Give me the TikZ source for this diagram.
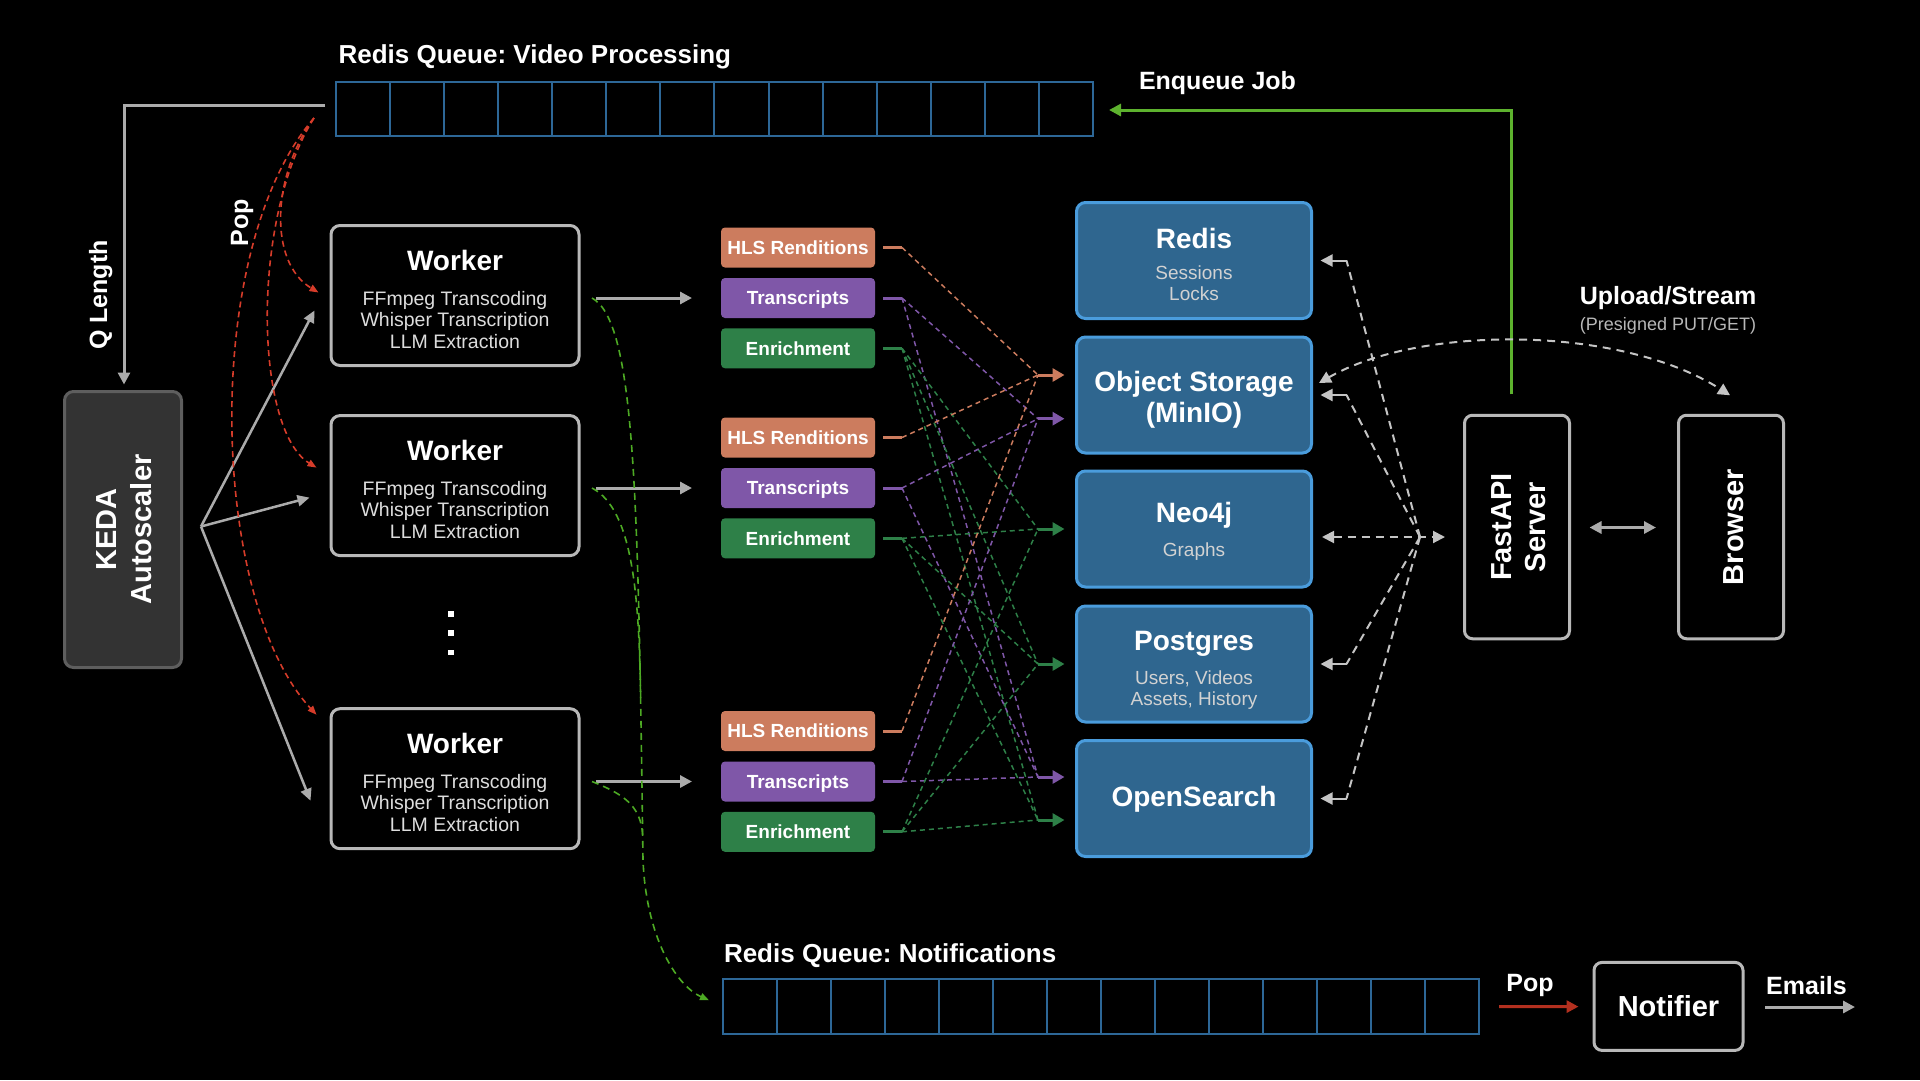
\documentclass[tikz,border=0pt]{standalone}
\usepackage{fontspec}
\setmainfont{Liberation Sans}
\usetikzlibrary{arrows.meta,calc}
\frenchspacing
\newcommand\myfs[2]{\fontsize{#1pt}{#2pt}\selectfont}
\definecolor{qblue}{HTML}{2D6797}
\definecolor{sfill}{HTML}{2F668F}
\definecolor{sborder}{HTML}{4A9CDC}
\definecolor{lgray}{HTML}{ABABAB}
\definecolor{dgray}{HTML}{C4C4C4}
\definecolor{bgray}{HTML}{B8B8B8}
\definecolor{subgray}{HTML}{D2D2D2}
\definecolor{wsub}{HTML}{DDDDDD}
\definecolor{hlsc}{HTML}{CC7C5E}
\definecolor{trc}{HTML}{7F57A8}
\definecolor{enc}{HTML}{2E8048}
\definecolor{popred}{HTML}{D63C2A}
\definecolor{darkred}{HTML}{B3301F}
\definecolor{enqgreen}{HTML}{5DB22E}
\definecolor{notgreen}{HTML}{4DAA24}
\definecolor{kedafill}{HTML}{333333}
\definecolor{kedaborder}{HTML}{5E5E5E}
\begin{document}
\begin{tikzpicture}[x=1pt,y=-1pt,
  every node/.style={inner sep=0pt,outer sep=0pt},
  qbox/.style={draw=qblue,line width=2pt,anchor=north west},
  qlabel/.style={anchor=base west,text=white,font=\myfs{26}{30}\bfseries},
  lbl/.style={anchor=base,text=white,font=\myfs{25}{30}\bfseries},
  gtip/.style={-{Triangle[length=12pt,width=12pt]}},
  glinearrow/.style={draw=lgray,line width=3pt,gtip},
  kedaarrow/.style={draw=lgray,line width=2.5pt,-{Triangle[length=12pt,width=11pt]}},
  popcurve/.style={draw=popred,line width=1.6pt,dash pattern=on 6pt off 4pt,-{Triangle[length=9pt,width=7pt]}},
  notline/.style={draw=notgreen,line width=1.6pt,dash pattern=on 7pt off 5pt},
  notcurve/.style={notline,-{Triangle[length=9pt,width=7pt]}},
  workerbox/.style={draw=bgray,fill=black,line width=3pt,rounded corners=9pt,minimum width=248pt,minimum height=140pt,anchor=north},
  wtitle/.style={anchor=base,text=white,font=\myfs{28}{32}\bfseries},
  wline/.style={anchor=base,text=wsub,font=\myfs{19.5}{22}},
  outbox/.style={rounded corners=4pt,minimum width=154pt,minimum height=40pt,text=white,font=\myfs{19}{22}\bfseries,text height=13.7pt,text depth=0pt},
  storebox/.style={draw=sborder,fill=sfill,line width=3pt,rounded corners=9pt,minimum width=235pt,minimum height=116pt},
  stitle/.style={anchor=base,text=white,font=\myfs{28}{32}\bfseries},
  ssub/.style={anchor=base,text=subgray,font=\myfs{19}{22}},
  cdash/.style={line width=1.5pt,dash pattern=on 5pt off 4pt},
  sarrow/.style={line width=3pt,-{Triangle[length=12pt,width=13pt]}},
  darkbox/.style={draw=bgray,fill=black,line width=3pt,rounded corners=8pt,minimum width=105pt,minimum height=223.5pt},
  gdash/.style={draw=dgray,line width=2pt,dash pattern=on 8pt off 6pt},
  rotlbl/.style={rotate=90,text=white,font=\myfs{25}{30}\bfseries,text height=18pt,text depth=0pt}
]
\fill[black] (0,0) rectangle (1920,1080);
\useasboundingbox (0,0) rectangle (1920,1080);

% ---------- queues ----------
\node[qbox,minimum width=757pt,minimum height=54pt] (vq) at (336,82) {};
\foreach \k in {1,...,13}{\draw[qblue,line width=2pt] ($(vq.north west)+(54.07*\k,0)$) -- ($(vq.south west)+(54.07*\k,0)$);}
\node[qlabel] (vqlbl) at (338.6,63) {Redis Queue: Video Processing};

\node[qbox,minimum width=756.5pt,minimum height=54.5pt] (nq) at (722.6,979) {};
\foreach \k in {1,...,13}{\draw[qblue,line width=2pt] ($(nq.north west)+(54.03*\k,0)$) -- ($(nq.south west)+(54.03*\k,0)$);}
\node[qlabel] (nqlbl) at (724,962) {Redis Queue: Notifications};

% ---------- KEDA ----------
\node[draw=kedaborder,fill=kedafill,line width=3pt,rounded corners=9pt,minimum width=117pt,minimum height=276pt] (keda) at (123,529.5) {};
\node[rotate=90,align=center,text=white,font=\myfs{29}{34.7}\bfseries] (kedat) at (124,529.5) {KEDA\\Autoscaler};

\coordinate (qlstart) at ($(vq.west)+(-11,-4)$);
\coordinate (qltip) at ($(keda.north)+(1,-7)$);
\draw[glinearrow] (qlstart) -| (qltip);
\node[rotlbl] (qllbl) at (98,295) {Q Length};
\node[rotlbl] (poplbl) at (239,223) {Pop};

% ---------- workers ----------
\foreach \i/\tp in {1/225.5,2/415.6,3/708.7}{
  \node[workerbox] (w\i) at (455,\tp) {};
  \node[wtitle] (w\i-t) at (455,\tp+45) {Worker};
  \node[wline] (w\i-a) at (455,\tp+79.5) {FFmpeg Transcoding};
  \node[wline] (w\i-b) at (455,\tp+101) {Whisper Transcription};
  \node[wline] (w\i-c) at (455,\tp+122.5) {LLM Extraction};
}
\foreach \yy in {611,630,649.5}{\fill[white] (448,\yy) rectangle ++(6,5.5);}

% KEDA fan-out
\coordinate (kfan) at ($(keda.east)+(19.5,-3)$);
\coordinate (w1in) at ($(w1.west)+(-16.5,15)$);
\coordinate (w2in) at ($(w2.west)+(-21.5,12)$);
\coordinate (w3in) at ($(w3.west)+(-20.5,22)$);
\draw[kedaarrow] (kfan) -- (w1in);
\draw[kedaarrow] (kfan) -- (w2in);
\draw[kedaarrow] (kfan) -- (w3in);

% Pop curves
\coordinate (popsrc) at ($(vq.west)+(-22,9)$);
\coordinate (w1pop) at ($(w1.west)+(-12.5,-3)$);
\coordinate (w2pop) at ($(w2.west)+(-14.5,-18)$);
\coordinate (w3pop) at ($(w3.west)+(-14.5,-64)$);
\draw[popcurve] (popsrc) .. controls (272,175) and (268,262) .. (w1pop);
\draw[popcurve] (popsrc) .. controls (250,220) and (255,430) .. (w2pop);
\draw[popcurve] (popsrc) .. controls (200,250) and (210,600) .. (w3pop);

% ---------- stores ----------
\node[storebox] (rds) at (1194,260.5) {};
\node[storebox] (os) at (1194,395) {};
\node[storebox] (neo) at (1194,529) {};
\node[storebox] (pg) at (1194,664) {};
\node[storebox] (ops) at (1194,798.5) {};
\node[stitle] (rds-t) at (1194,248) {Redis};
\node[ssub] (rds-a) at (1194,279.6) {Sessions};
\node[ssub] (rds-b) at (1194,300.3) {Locks};
\node[stitle] (os-t) at (1194,391) {Object Storage};
\node[stitle] (os-b) at (1194,422) {(MinIO)};
\node[stitle] (neo-t) at (1194,522.5) {Neo4j};
\node[ssub] (neo-a) at (1194,556.5) {Graphs};
\node[stitle] (pg-t) at (1194,650) {Postgres};
\node[ssub] (pg-a) at (1194,684) {Users, Videos};
\node[ssub] (pg-b) at (1194,705) {Assets, History};
\node[stitle] (ops-t) at (1194,806) {OpenSearch};

\coordinate (osH) at ($(os.west)+(-38.5,-20)$);
\coordinate (osT) at ($(os.west)+(-38.5,23.7)$);
\coordinate (neoE) at ($(neo.west)+(-38.5,0)$);
\coordinate (pgE) at ($(pg.west)+(-38.5,0)$);
\coordinate (opT) at ($(ops.west)+(-38.5,-21.5)$);
\coordinate (opE) at ($(ops.west)+(-38.5,21.5)$);

% notification queue entry
\coordinate (nqin) at ($(nq.west)+(-13.6,-6)$);
\coordinate (nqmid) at (643,860);
\coordinate (join2) at (640.7,700);
\coordinate (join3) at (642.6,835);

% ---------- outputs ----------
\foreach \i/\cy in {1/298,2/488,3/781.5}{
  \node[outbox,fill=hlsc] (h\i) at (798,\cy-50.5) {HLS Renditions};
  \node[outbox,fill=trc] (t\i) at (798,\cy) {Transcripts};
  \node[outbox,fill=enc] (e\i) at (798,\cy+50.3) {Enrichment};
  \draw[hlsc,line width=3pt] ($(h\i.east)+(8,0)$) -- ($(h\i.east)+(27,0)$) coordinate (h\i-s);
  \draw[trc,line width=3pt] ($(t\i.east)+(8,0)$) -- ($(t\i.east)+(27,0)$) coordinate (t\i-s);
  \draw[enc,line width=3pt] ($(e\i.east)+(8,0)$) -- ($(e\i.east)+(27,0)$) coordinate (e\i-s);
  \coordinate (w\i-o) at ($(w\i.east |- t\i.west)+(13,0)$);
  \draw[glinearrow] ($(w\i-o)+(4,0)$) -- ($(t\i.west)+(-29,0)$);
}
% notifications: worker 1 draws the trunk, the others join it
\draw[notcurve] (w1-o) .. controls ($(w1-o)+(44,24)$) and (638,500) .. (nqmid)
   .. controls (646,935) and (675,985) .. (nqin);
\draw[notline] (w2-o) .. controls ($(w2-o)+(42,22)$) and (639,600) .. (join2);
\draw[notline] (w3-o) .. controls ($(w3-o)+(30,12)$) and (641,805) .. (join3);

\foreach \i in {1,2,3}{
  \draw[cdash,hlsc] (h\i-s) -- (osH);
  \draw[cdash,trc] (t\i-s) -- (osT);
  \draw[cdash,trc] (t\i-s) -- (opT);
  \draw[cdash,enc] (e\i-s) -- (neoE);
  \draw[cdash,enc] (e\i-s) -- (pgE);
  \draw[cdash,enc] (e\i-s) -- (opE);
}
\draw[sarrow,hlsc] (osH) -- ($(osH -| os.west)+(-12,0)$);
\draw[sarrow,trc] (osT) -- ($(osT -| os.west)+(-12,0)$);
\draw[sarrow,enc] (neoE) -- ($(neoE -| neo.west)+(-12,0)$);
\draw[sarrow,enc] (pgE) -- ($(pgE -| pg.west)+(-12,0)$);
\draw[sarrow,trc] (opT) -- ($(opT -| ops.west)+(-12,0)$);
\draw[sarrow,enc] (opE) -- ($(opE -| ops.west)+(-12,0)$);

% ---------- right side ----------
\node[darkbox] (fa) at (1517,527) {};
\node[rotate=90,align=center,text=white,font=\myfs{29}{34}\bfseries] (fa-t) at (1518.8,527) {FastAPI\\Server};
\node[darkbox] (br) at (1731,527) {};
\node[rotate=90,text=white,font=\myfs{29}{34}\bfseries,text height=21pt,text depth=0pt] (br-t) at (1733,527) {Browser};
\draw[line width=3pt,lgray,{Triangle[length=12pt,width=12pt]}-{Triangle[length=12pt,width=12pt]}] ($(fa.east)+(20,0.5)$) -- ($(br.west)+(-22.5,0.5)$);

\coordinate (enqs) at ($(fa.north)+(-6,-21)$);
\coordinate (enqt) at ($(vq.east)+(16,1)$);
\draw[line width=3pt,enqgreen,gtip] (enqs) |- (enqt);
\node[anchor=base west,text=white,font=\myfs{25}{30}\bfseries] (enqlbl) at (1139,89) {Enqueue Job};

\coordinate (hub) at ($(fa.west)+(-44.5,10)$);
\foreach \s in {rds,os,pg,ops}{
  \coordinate (\s-e) at ($(\s.east)+(35,0)$);
  \draw[gdash] (hub) -- (\s-e);
  \draw[draw=dgray,line width=2pt,gtip] (\s-e) -- ($(\s.east)+(9,0)$);
}
\draw[gdash,{Triangle[length=12pt,width=12pt]}-{Triangle[length=12pt,width=12pt]}] ($(neo.east |- hub)+(10.5,0)$) -- ($(hub)+(25,0)$);
\draw[gdash,{Triangle[length=12pt,width=12pt]}-{Triangle[length=12pt,width=12pt]}] ($(os.east)+(7.5,-12)$) .. controls (1420,325) and (1620,325) .. ($(br.north)+(-1,-20)$);
\node[lbl] (uplbl) at (1668,304) {Upload/Stream};
\node[anchor=base,text=bgray,font=\myfs{18}{22}] (uplbl2) at (1668,330) {(Presigned PUT/GET)};

% ---------- notifier ----------
\node[draw=bgray,fill=black,line width=3pt,rounded corners=8pt,minimum width=149pt,minimum height=88pt,text=white,font=\myfs{29}{34}\bfseries,text height=21pt,text depth=0pt] (nt) at (1668.5,1006.4) {Notifier};
\draw[line width=3pt,darkred,gtip] ($(nq.east)+(20,0.4)$) -- ($(nt.west)+(-15.5,0.2)$);
\node[lbl] (poplbl2) at (1530,991) {Pop};
\coordinate (emailend) at ($(nt.east)+(112,0.6)$);
\draw[glinearrow] ($(nt.east)+(22,0.6)$) -- (emailend);
\node[lbl] (emlbl) at (1806.5,994) {Emails};
\end{tikzpicture}
\end{document}
